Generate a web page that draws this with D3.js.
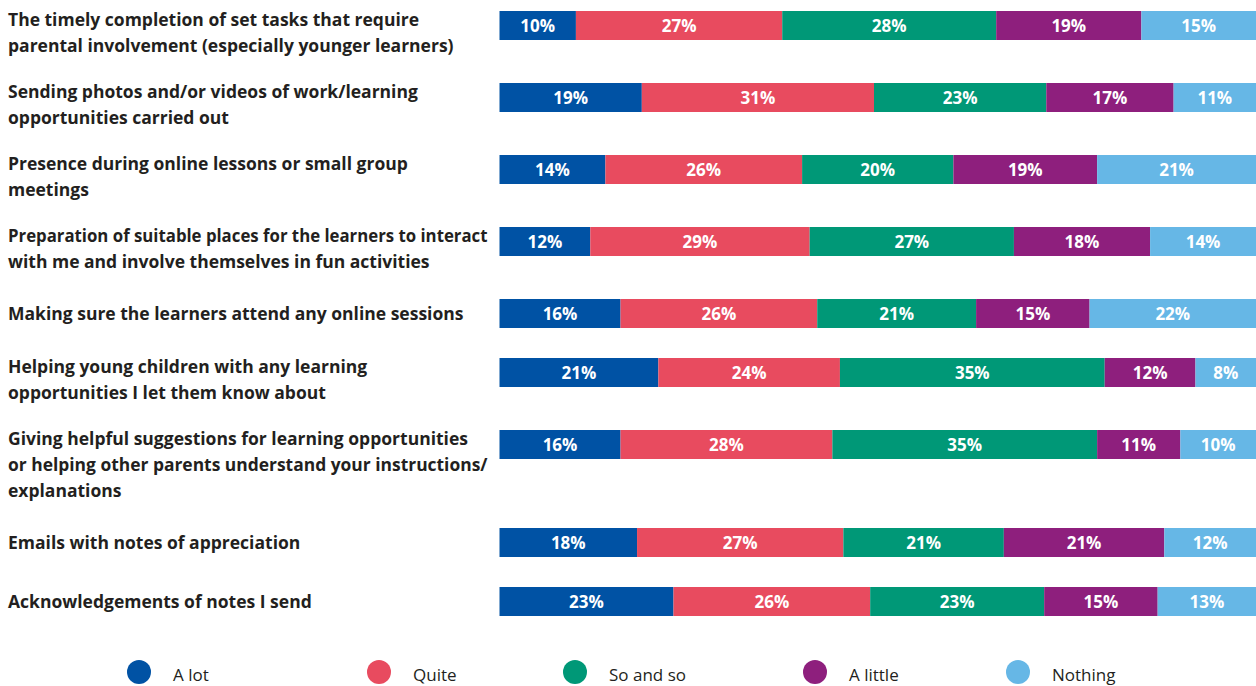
<!DOCTYPE html>
<html>
<head>
<meta charset="utf-8">
<script src="https://cdn.jsdelivr.net/npm/d3@7/dist/d3.min.js"></script>
<style>
  html, body { margin: 0; padding: 0; background: #ffffff; }
  svg { display: block; }
  .row-label { font-family: "Open Sans", "Lato", sans-serif; font-weight: 700; fill: #231f20; }
  .pct { font-family: "Open Sans", "Lato", sans-serif; font-weight: 700; fill: #ffffff; }
  .legend-label { font-family: "Open Sans", "Lato", sans-serif; font-weight: 400; fill: #231f20; }
</style>
</head>
<body>
<svg id="chart" width="1256" height="686"></svg>
<script>
// Survey statements (line breaks as set in the layout)
const categories = [
  "The timely completion of set tasks that require\nparental involvement (especially younger learners)",
  "Sending photos and/or videos of work/learning\nopportunities carried out",
  "Presence during online lessons or small group\nmeetings",
  "Preparation of suitable places for the learners to interact\nwith me and involve themselves in fun activities",
  "Making sure the learners attend any online sessions",
  "Helping young children with any learning\nopportunities I let them know about",
  "Giving helpful suggestions for learning opportunities\nor helping other parents understand your instructions/\nexplanations",
  "Emails with notes of appreciation",
  "Acknowledgements of notes I send"
];

// Response levels
const seriesNames = ["A lot", "Quite", "So and so", "A little", "Nothing"];

// Percentages per response level, one value per statement
const aLot    = [10, 19, 14, 12, 16, 21, 16, 18, 23];
const quite   = [27, 31, 26, 29, 26, 24, 28, 27, 26];
const soAndSo = [28, 23, 20, 27, 21, 35, 35, 21, 23];
const aLittle = [19, 17, 19, 18, 15, 12, 11, 21, 15];
const nothing = [15, 11, 21, 14, 22,  8, 10, 12, 13];

const seriesColors = ["#0052a4", "#e84b5f", "#009877", "#8e1f7d", "#66b7e6"];

// ---- layout ----
const barX0 = 499.5, barX1 = 1256;
const barH = 29;
const firstCenter = 25.5;
const gapAfterLines = {1: 59, 2: 72, 3: 98};   // vertical advance after a row, by label line count
const lineH = 26;
const labelX = 8;
const labelMaxW = barX0 - labelX - 12;         // keep labels clear of the bars
const legendY = 672;
const legendX = [139, 379, 575, 815, 1018];

const svg = d3.select("#chart");

// Build rows
const rows = categories.map((c, i) => {
  const vals = [aLot[i], quite[i], soAndSo[i], aLittle[i], nothing[i]];
  return { label: c, lines: c.split("\n"), vals, total: d3.sum(vals) };
});

// Vertical centre of each row
let yc = firstCenter;
rows.forEach(r => { r.cy = yc; yc += gapAfterLines[r.lines.length]; });

// Row labels
const labelG = svg.append("g");
rows.forEach(r => {
  const base = r.lines.length > 1 ? r.cy + 0.5 : r.cy + 6.5;
  r.lines.forEach((ln, k) => {
    const t = labelG.append("text")
      .attr("class", "row-label")
      .attr("x", labelX)
      .attr("y", base + k * lineH)
      .style("font-size", "17.5px")
      .text(ln);
    const w = t.node().getComputedTextLength();
    if (w > labelMaxW) {
      t.attr("textLength", labelMaxW).attr("lengthAdjust", "spacingAndGlyphs");
    }
  });
});

// Stacked bars, each row scaled to its own total
const barsG = svg.append("g");
rows.forEach(r => {
  const x = d3.scaleLinear().domain([0, r.total]).range([barX0, barX1]);
  let acc = 0;
  const segs = r.vals.map((v, k) => {
    const s = { k, v, x0: acc, x1: acc + v };
    acc += v;
    return s;
  });
  const g = barsG.append("g");
  g.selectAll("rect").data(segs).join("rect")
    .attr("x", d => x(d.x0))
    .attr("y", r.cy - barH / 2)
    .attr("width", d => x(d.x1) - x(d.x0))
    .attr("height", barH)
    .attr("fill", d => seriesColors[d.k]);
  g.selectAll("text").data(segs).join("text")
    .attr("class", "pct")
    .attr("x", d => (x(d.x0) + x(d.x1)) / 2)
    .attr("y", r.cy + 6)
    .attr("text-anchor", "middle")
    .style("font-size", "17px")
    .text(d => d.v + "%");
});

// Legend
const legG = svg.append("g");
seriesNames.forEach((name, k) => {
  legG.append("circle")
    .attr("cx", legendX[k]).attr("cy", legendY).attr("r", 12)
    .attr("fill", seriesColors[k]);
  legG.append("text")
    .attr("class", "legend-label")
    .attr("x", legendX[k] + 34).attr("y", legendY + 8.5)
    .style("font-size", "17px")
    .text(name);
});
</script>
</body>
</html>
